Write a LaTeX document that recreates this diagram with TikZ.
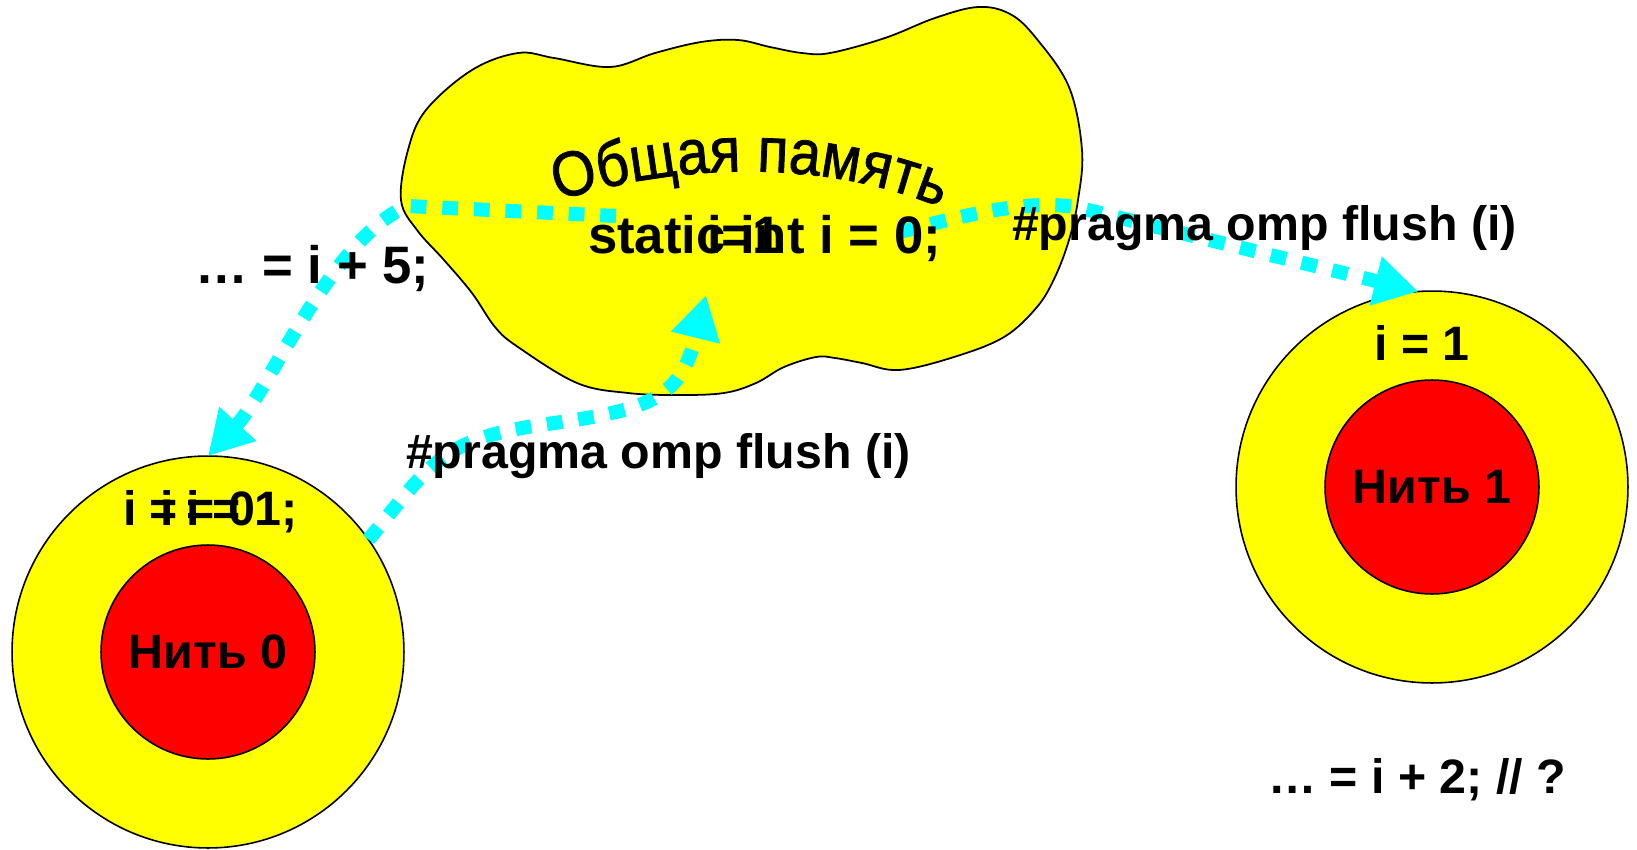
\documentclass[tikz,border=0pt]{standalone}
\usepackage{fontspec}
\setmainfont{Liberation Sans}
\newfontfamily\archfont[FakeStretch=0.9,FakeBold=1.2]{Liberation Sans}
\usetikzlibrary{arrows.meta,decorations.text}
\definecolor{flowcyan}{RGB}{0,255,255}
\definecolor{memyellow}{RGB}{255,255,0}
\definecolor{threadred}{RGB}{255,0,0}
\begin{document}
\begin{tikzpicture}[x=0.02cm,y=-0.02cm,
  lbl/.style={inner sep=0pt, outer sep=0pt, font=\bfseries\fontsize{27.5}{27.5}\selectfont},
  biglbl/.style={inner sep=0pt, outer sep=0pt, font=\bfseries\fontsize{30}{30}\selectfont},
  flow/.style={draw=flowcyan, line width=8pt, dash pattern=on 9pt off 9pt, -{Triangle[length=25pt,width=27pt]}},
  outerc/.style={circle, draw=black, line width=0.9pt, fill=memyellow, minimum size=7.84cm, inner sep=0pt, outer sep=0pt},
  innerc/.style={circle, draw=black, line width=0.9pt, fill=threadred, minimum size=4.28cm, inner sep=0pt, outer sep=0pt}]
\useasboundingbox (0,0) rectangle (1637,849);

% shared memory cloud
\draw[line width=1pt, fill=memyellow] plot[smooth cycle, tension=0.6] coordinates {
 (401,200) (408,150) (426,110) (472,70) (518,53) (554,58) (610,67) (655,53) (701,42)
 (738,40) (770,47) (802,53) (830,53) (885,38) (935,18) (978,7) (1010,14) (1036,38)
 (1069,87) (1082,150) (1078,200) (1069,240) (1055,277) (1037,307) (1004,337) (954,357)
 (899,370) (862,363) (835,358) (816,357) (784,367) (756,383) (724,393) (678,395)
 (628,393) (577,383) (518,347) (495,327) (472,293) (444,260) (417,230)};

\path[decorate, decoration={text along path, text align=center,
  text={|\archfont\fontsize{36}{36}\selectfont|Общая память}}]
  (556,201) .. controls (680,163) and (820,158) .. (942,208);

% threads
\node[outerc] (t0out) at (208,652) {};
\node[innerc] (t0in) at (208,652) {};
\node[outerc] (t1out) at (1432,487) {};
\node[innerc] (t1in) at (1432,487) {};

% connectors
\coordinate (a0) at (616,216);
\coordinate (a1) at (407,206);
\coordinate (b1) at (706,295);
\coordinate (c0) at (900,232);
\coordinate (c1) at (1080,208);
\draw[flow] (a0) -- (a1) .. controls (330,240) and (270,389) .. (t0out.north);
\draw[flow] (t0out.35) .. controls (430,465) and (440,440) .. (540,425)
  .. controls (650,410) and (680,400) .. (b1);
\draw[flow] (c0) .. controls (990,208) and (1040,200) .. (c1) -- (t1out.94);

% texts
\node[lbl] (t0name) at (t0in.center) {Нить 0};
\node[lbl] (t1name) at (t1in.center) {Нить 1};
\node[biglbl, anchor=base west] (read0) at (195,283) {… = i + 5;};
\node[biglbl, anchor=base west] (stat) at (588,253) {static int i = 0;};
\node[biglbl, anchor=base west] (stat1) at (707,253) {i=1};
\node[lbl, anchor=base west] (flushA) at (1012,240) {\#pragma omp flush (i)};
\node[lbl, anchor=base west] (flushB) at (406,468) {\#pragma omp flush (i)};
\node[lbl, anchor=base] (t1val) at (1422,360) {i = 1};
\node[lbl, anchor=base west] (read1) at (1268,793) {… = i + 2; // ?};
\node[lbl, anchor=base west] (t0a) at (123,525) {i =};
\node[lbl, anchor=base west] (t0b) at (160,525) {i = 0};
\node[lbl, anchor=base west] (t0c) at (186,525) {i = 1;};
\end{tikzpicture}
\end{document}
